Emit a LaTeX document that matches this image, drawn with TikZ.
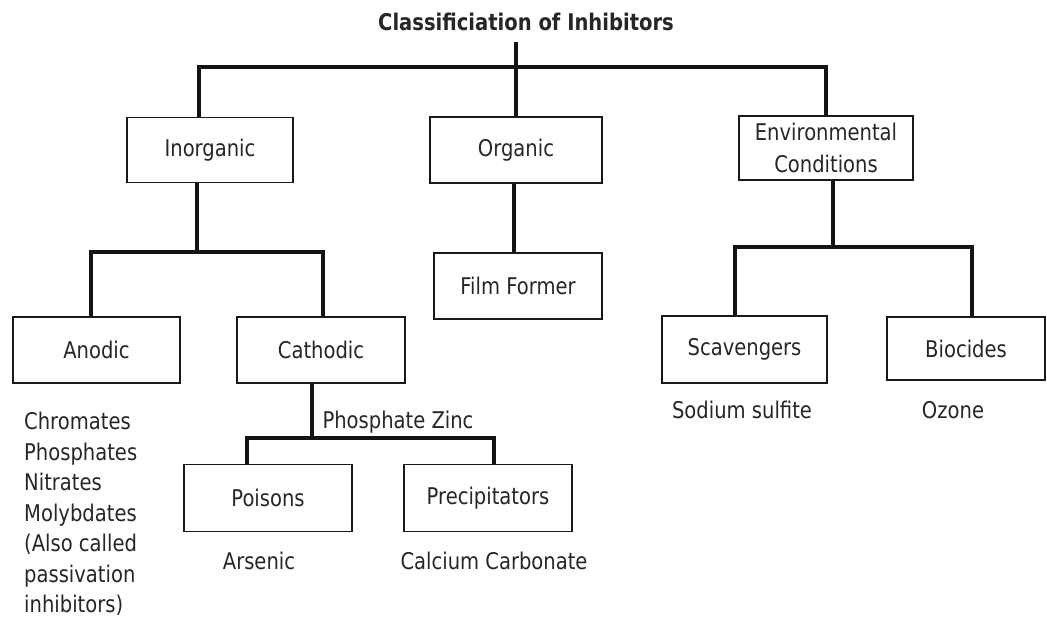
\documentclass[tikz,border=0pt]{standalone}
\usepackage{fontspec}
\setmainfont{DejaVu Sans}[FakeStretch=0.85]

\begin{document}
\begin{tikzpicture}[x=1pt,y=-1pt]
            \tikzset{catbox/.style = {draw=black!90, line width=1.8pt, inner sep=0pt, minimum width=168pt, minimum height=66pt, align=center, text=black!85, font=\fontsize{23}{32}\selectfont}}
            \tikzset{link/.style = {draw=black!92, line width=4pt}}
            \tikzset{lbl/.style = {inner sep=0pt, text=black!85, font=\fontsize{23}{30.5}\selectfont}}
            \useasboundingbox (0,0) rectangle (1047,620);
            
            \node[lbl, font=\fontsize{23}{28}\selectfont\bfseries] (title) at (526,22) {Classificiation of Inhibitors};
            
            \node[catbox, minimum width=166pt, minimum height=65pt] (ino) at (210,150) {Inorganic};
            \node[catbox, minimum width=172pt] (org) at (516,150) {Organic};
            \node[catbox, minimum width=174pt, minimum height=64pt] (env) at (826,148) {Environmental\\Conditions};
            \node[catbox] (film) at (518,286) {Film Former};
            \node[catbox, minimum width=167pt] (ano) at (96.5,350) {Anodic};
            \node[catbox] (cat) at (321,350) {Cathodic};
            \node[catbox, minimum width=165pt, minimum height=67pt] (sca) at (744.5,349.5) {Scavengers};
            \node[catbox, minimum width=158pt, minimum height=63pt] (bio) at (966,348.5) {Biocides};
            \node[catbox, minimum height=67pt] (poi) at (268,498) {Poisons};
            \node[catbox, minimum height=67pt] (pre) at (488,498) {Precipitators};
            
            \node[lbl, anchor=north west, align=left] (anolist) at (24,412) {Chromates\\Phosphates\\Nitrates\\Molybdates\\(Also called\\passivation\\inhibitors)};
            \node[lbl] (catlbl) at (398,422) {Phosphate Zinc};
            \node[lbl] (poilbl) at (259,561) {Arsenic};
            \node[lbl] (prelbl) at (494,561) {Calcium Carbonate};
            \node[lbl] (scalbl) at (742,410) {Sodium sulfite};
            \node[lbl] (biolbl) at (953,410) {Ozone};
            
            \coordinate (tstem) at (516,42);
            \coordinate (jtop) at (516,67);
            \coordinate (jino) at (197,252);
            \coordinate (jenv) at (833,247);
            \coordinate (jcat) at (312,438);
            
            \draw[link] (tstem)--(jtop);
            \draw[link] ([xshift=-11pt]ino.north) |- (jtop) -| (env.north);
            \draw[link] (jtop)--(org.north);
            
            \draw[link] ([xshift=-13pt]ino.south)--(jino);
            \draw[link] ([xshift=-5.5pt]ano.north) |- (jino) -| ([xshift=2pt]cat.north);
            
            \draw[link] ([xshift=-2pt]org.south)--([xshift=-4pt]film.north);
            
            \draw[link] ([xshift=7pt]env.south)--(jenv);
            \draw[link] ([xshift=-9.5pt]sca.north) |- (jenv) -| ([xshift=6pt]bio.north);
            
            \draw[link] ([xshift=-9pt]cat.south)--(jcat);
            \draw[link] ([xshift=-21pt]poi.north) |- (jcat) -| ([xshift=6pt]pre.north);
            
        \end{tikzpicture}
\end{document}
